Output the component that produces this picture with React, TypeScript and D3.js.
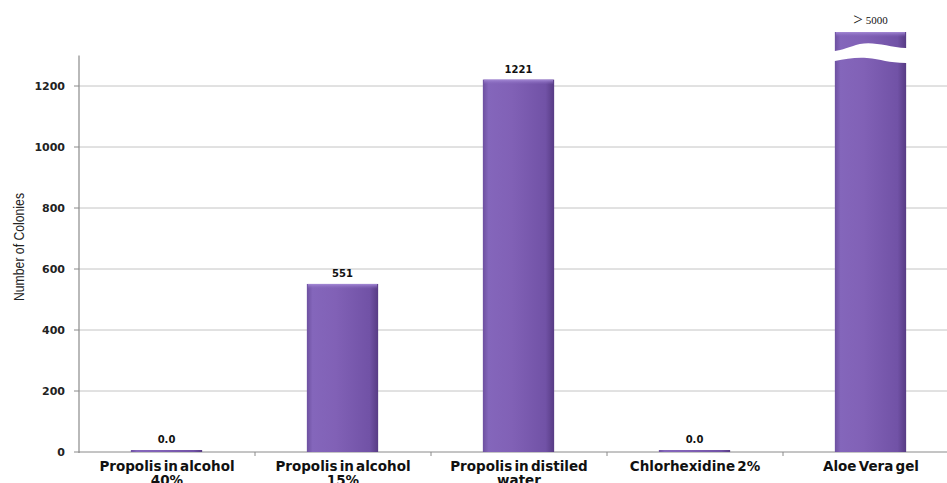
import React from "react";
import * as d3 from "d3";

const categories = [
  ["Propolis in alcohol", "40%"],
  ["Propolis in alcohol", "15%"],
  ["Propolis in distiled", "water"],
  ["Chlorhexidine 2%"],
  ["Aloe Vera gel"],
];
const values = [0, 551, 1221, 0, 5000];
const valueLabels = ["0.0", "551", "1221", "0.0", "5000"];
const yTicks = [0, 200, 400, 600, 800, 1000, 1200];

const W = 947;
const H = 483;
const left = 79;
const bandW = 176;
const y0 = 452;
const yMax = 1300;

export default function App() {
  const x = d3
    .scaleBand<number>()
    .domain(values.map((_, i) => i))
    .range([left, left + bandW * categories.length])
    .paddingInner(0)
    .paddingOuter(0);
  const y = d3.scaleLinear().domain([0, yMax]).range([y0, y0 - (yMax / 200) * 61]);
  const bw = x.bandwidth() * 0.405;
  const top = y(yMax);

  return (
    <svg width={W} height={H} style={{ position: "absolute", left: 0, top: 0, background: "#fff" }}>
      <defs>
        <linearGradient id="barG" x1="0" x2="1" y1="0" y2="0">
          <stop offset="0" stopColor="#6d50a0" />
          <stop offset="0.08" stopColor="#8466bb" />
          <stop offset="0.4" stopColor="#8161b6" />
          <stop offset="0.88" stopColor="#7152a6" />
          <stop offset="1" stopColor="#573b84" />
        </linearGradient>
        <linearGradient id="capG" x1="0" x2="0" y1="0" y2="1">
          <stop offset="0" stopColor="#a58ad6" />
          <stop offset="1" stopColor="#8466bb" stopOpacity="0" />
        </linearGradient>
      </defs>
      <rect width={W} height={H} fill="#fff" />
      {yTicks.map((t) => (
        <line key={t} x1={left} x2={W} y1={y(t)} y2={y(t)} stroke={t === 0 ? "#8a8a8a" : "#c4c4c4"} strokeWidth={1} />
      ))}
      <line x1={left} x2={left} y1={top} y2={y0 + 1} stroke="#8a8a8a" strokeWidth={1.2} />
      {yTicks.map((t) => (
        <g key={"t" + t}>
          <line x1={left - 5} x2={left} y1={y(t)} y2={y(t)} stroke="#8a8a8a" />
          <text
            x={left - 14}
            y={y(t) + 4}
            textAnchor="end"
            fontFamily="DejaVu Sans, Verdana, sans-serif"
            fontWeight="bold"
            fontSize={11}
            fill="#222"
          >
            {t}
          </text>
        </g>
      ))}
      {d3.range(1, categories.length + 1).map((i) => (
        <line key={"xt" + i} x1={left + i * bandW} x2={left + i * bandW} y1={y0} y2={y0 + 4} stroke="#8a8a8a" />
      ))}
      <text
        transform={`translate(24,247) rotate(-90)`}
        textAnchor="middle"
        fontFamily="Liberation Sans, Arial, sans-serif"
        fontSize={14}
        textLength={108}
        lengthAdjust="spacingAndGlyphs"
        fill="#222"
      >
        Number of Colonies
      </text>
      {values.map((v, i) => {
        const cx = (x(i) as number) + x.bandwidth() / 2 - 0.5;
        const bx = cx - bw / 2;
        if (v > yMax) {
          const capTop = 32;
          const breakY = 50;
          const lowTop = 62;
          const path1 = `M${bx},${capTop} H${bx + bw} V${breakY - 2} C${bx + bw * 0.75},${breakY - 3} ${bx + bw * 0.55},${breakY - 9} ${bx + bw * 0.35},${breakY - 6} C${bx + bw * 0.2},${breakY - 3} ${bx + bw * 0.1},${breakY} ${bx},${breakY + 1} Z`;
          const path2 = `M${bx},${lowTop - 1} C${bx + bw * 0.15},${lowTop - 3} ${bx + bw * 0.3},${lowTop - 5} ${bx + bw * 0.45},${lowTop - 4} C${bx + bw * 0.65},${lowTop - 3} ${bx + bw * 0.75},${lowTop + 1} ${bx + bw},${lowTop + 1} V${y0} H${bx} Z`;
          return (
            <g key={i}>
              <path d={path1} fill="url(#barG)" />
              <rect x={bx + 1} y={capTop} width={bw - 2} height={5} fill="url(#capG)" />
              <path d={path2} fill="url(#barG)" />
              <text
                x={cx}
                y={24}
                textAnchor="middle"
                fontFamily="Liberation Serif, Times New Roman, serif"
                fontSize={11}
                fill="#111"
              >
                <tspan fontSize={17} dy={1}>{">"}</tspan>
                <tspan dy={-1}>{" " + valueLabels[i]}</tspan>
              </text>
            </g>
          );
        }
        const h = Math.max(y0 - y(v), 2);
        const ty = y0 - h;
        return (
          <g key={i}>
            <rect x={bx} y={ty} width={bw} height={h} fill="url(#barG)" />
            {h > 8 && <rect x={bx + 1} y={ty} width={bw - 2} height={5} fill="url(#capG)" />}
            <text
              x={cx}
              y={ty - 7}
              textAnchor="middle"
              fontFamily="DejaVu Sans, Verdana, sans-serif"
              fontWeight="bold"
              fontSize={10}
              fill="#111"
            >
              {valueLabels[i]}
            </text>
          </g>
        );
      })}
      {categories.map((lines, i) => {
        const cx = (x(i) as number) + x.bandwidth() / 2;
        return (
          <text
            key={"c" + i}
            textAnchor="middle"
            fontFamily="DejaVu Sans, Verdana, sans-serif"
            fontWeight="bold"
            fontSize={13.5}
            fill="#111"
            wordSpacing={-2.5}
          >
            {lines.map((l, j) => (
              <tspan key={j} x={cx} y={471 + j * 14}>
                {l}
              </tspan>
            ))}
          </text>
        );
      })}
    </svg>
  );
}
